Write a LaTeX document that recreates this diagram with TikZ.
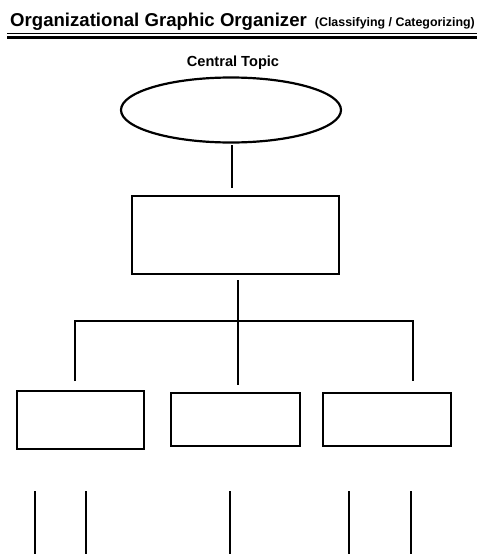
\documentclass[tikz,border=0pt]{standalone}
\usepackage{fontspec}
\setmainfont{Liberation Sans}
\usetikzlibrary{shapes.geometric}
\begin{document}
\begin{tikzpicture}[x=1pt,y=-1pt,
  shape line/.style={line width=2.2pt},
  organizer box/.style={draw,line width=2.2pt,rectangle,inner sep=0pt},
  branch/.style={line width=2.2pt},
  stub/.style={line width=2.2pt}]
\useasboundingbox (0,0) rectangle (477,554);
% heading
\node[anchor=base west,inner sep=0pt] (title) at (10,27)
  {\fontsize{18.6}{22}\selectfont\bfseries Organizational Graphic Organizer};
\node[anchor=base east,inner sep=0pt] (subtitle) at (475,27)
  {\fontsize{12.4}{14}\selectfont\bfseries (Classifying / Categorizing)};
\coordinate (ruleL) at (7,37.3);
\coordinate (ruleR) at (477,37.3);
\draw[line width=2.6pt] (ruleL) -- (ruleR);
\draw[line width=0.9pt] ([yshift=3.4pt]ruleL) -- ([yshift=3.4pt]ruleR);
% central topic
\node[anchor=base,inner sep=0pt] (label) at (233,66)
  {\fontsize{14.6}{16}\selectfont\bfseries Central Topic};
\draw[shape line] (231,110) ellipse [x radius=110, y radius=32.5];
\coordinate (topic) at (232,145);
\coordinate (topicEnd) at (232,188);
\draw[branch] (topic) -- (topicEnd);
% main box
\node[organizer box,minimum width=207pt,minimum height=78pt] (main) at (235.5,235) {};
\coordinate (mainStem) at (238,280);
\coordinate (hub) at (238,321);
\coordinate (midEnd) at (238,385);
\coordinate (barL) at (75,321);
\coordinate (barR) at (413,321);
\coordinate (leftEnd) at (75,381);
\coordinate (rightEnd) at (413,381);
\draw[branch] (mainStem) -- (midEnd);
\draw[branch] (leftEnd) -- (barL) -- (barR) -- (rightEnd);
% category boxes
\node[organizer box,minimum width=127pt,minimum height=58pt] (left) at (80.5,420) {};
\node[organizer box,minimum width=129pt,minimum height=53pt] (middle) at (235.5,419.5) {};
\node[organizer box,minimum width=128pt,minimum height=53pt] (right) at (387,419.5) {};
% detail stubs
\foreach \x [count=\i] in {35,86,230,349,411}{
  \coordinate (s\i) at (\x,491);
  \coordinate (e\i) at (\x,556);
  \draw[stub] (s\i) -- (e\i);
}
\end{tikzpicture}
\end{document}
